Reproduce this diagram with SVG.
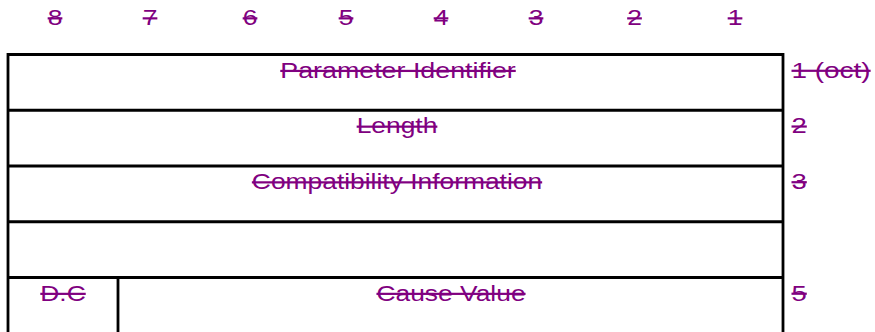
<svg xmlns="http://www.w3.org/2000/svg" width="875" height="332" viewBox="0 0 875 332">
<style>
.t{font-family:"Liberation Sans",Arial,sans-serif;font-size:22px;fill:#800080;text-decoration:line-through;}
.m{text-anchor:middle;}
.ln{stroke:#000;stroke-width:2.8;fill:none;}
</style>
<rect width="875" height="332" fill="#fff"/>
<g id="bits">
<text class="t m" transform="translate(55,25) scale(1.2,1)">8</text>
<text class="t m" transform="translate(150,25) scale(1.2,1)">7</text>
<text class="t m" transform="translate(250,25) scale(1.2,1)">6</text>
<text class="t m" transform="translate(346,25) scale(1.2,1)">5</text>
<text class="t m" transform="translate(441,25) scale(1.2,1)">4</text>
<text class="t m" transform="translate(536,25) scale(1.2,1)">3</text>
<text class="t m" transform="translate(634.5,25) scale(1.2,1)">2</text>
<text class="t m" transform="translate(735,25) scale(1.2,1)">1</text>
</g>
<g id="grid">
<path class="ln" d="M8,54.5H783M8,110.25H783M8,166H783M8,221.75H783M8,277.5H783M8,53.1V332M783,53.1V332M118,277.5V332"/>
</g>
<g id="row1">
<text class="t m" transform="translate(398,77.5) scale(1.22,1)">Parameter Identifier</text>
<text class="t" transform="translate(791.5,77.5) scale(1.27,1)">1 (oct)</text>
</g>
<g id="row2">
<text class="t m" transform="translate(397,133.3) scale(1.2,1)">Length</text>
<text class="t" transform="translate(791.5,133.3) scale(1.25,1)">2</text>
</g>
<g id="row3">
<text class="t m" transform="translate(397,189) scale(1.2,1)">Compatibility Information</text>
<text class="t" transform="translate(791.5,189) scale(1.25,1)">3</text>
</g>
<g id="row4"></g>
<g id="row5">
<text class="t m" transform="translate(63,300.5) scale(1.2,1)">D.C</text>
<text class="t m" transform="translate(451,300.5) scale(1.2,1)">Cause Value</text>
<text class="t" transform="translate(791.5,300.5) scale(1.25,1)">5</text>
</g>
</svg>
